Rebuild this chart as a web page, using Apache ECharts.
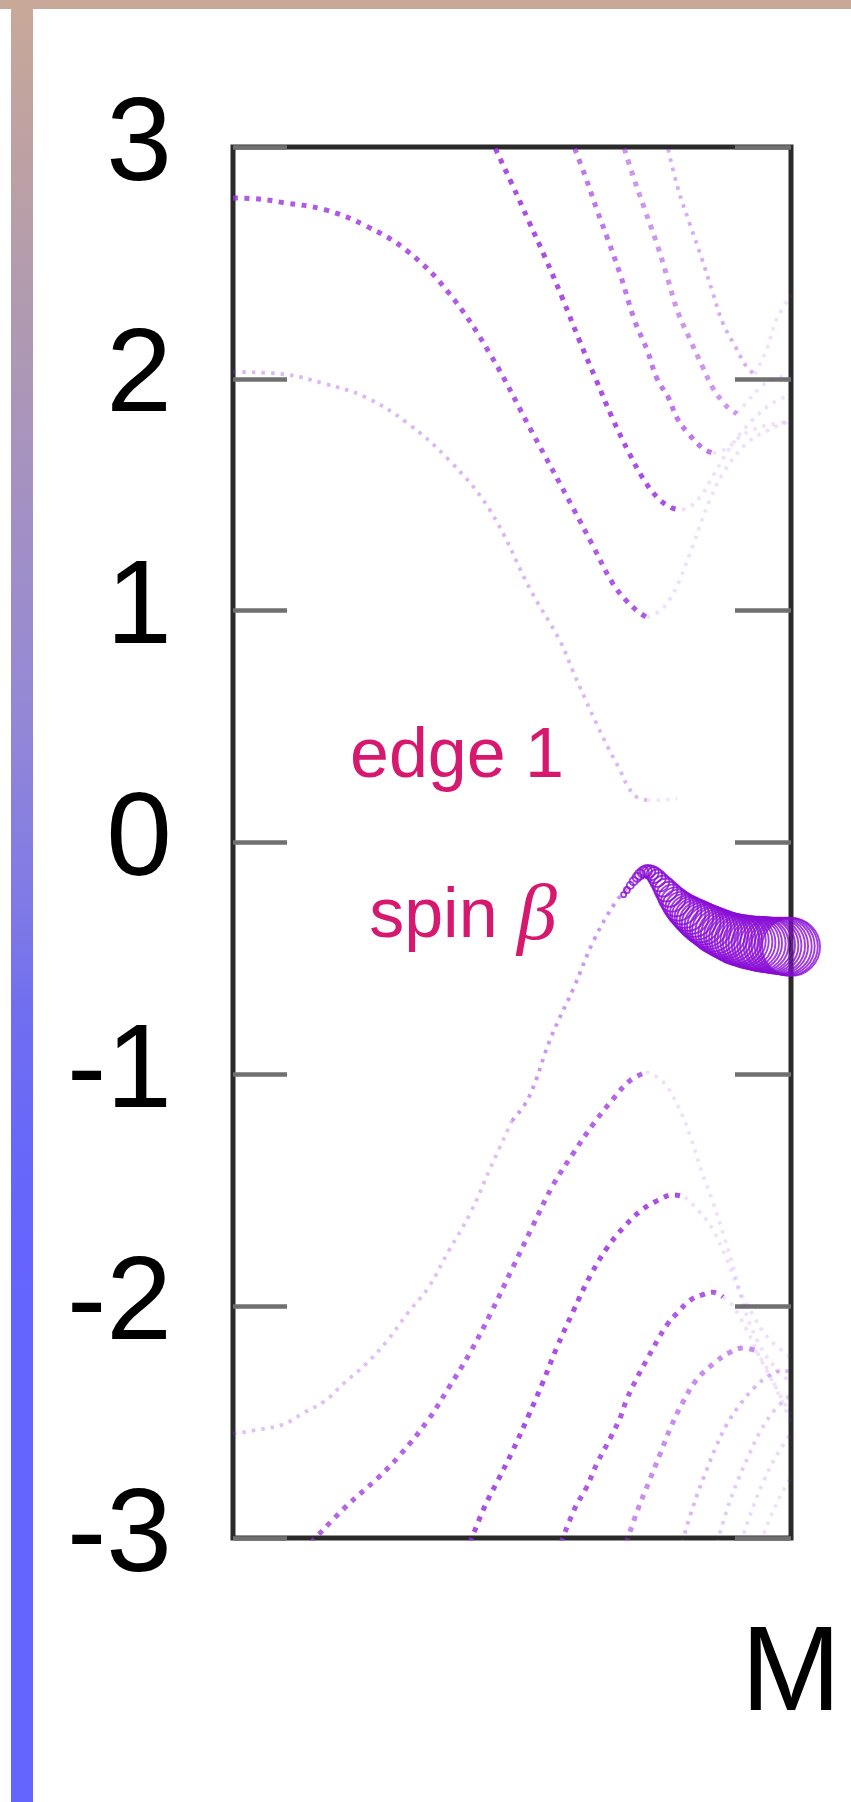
<!DOCTYPE html>
<html>
<head>
<meta charset="utf-8">
<script src="https://cdn.jsdelivr.net/npm/echarts@6/dist/echarts.min.js"></script>
<style>
html, body { margin: 0; padding: 0; background: #fff; }
#chart { width: 851px; height: 1802px; }
</style>
</head>
<body>
<div id="chart"></div>
<script>
// k runs from the left end of the path (0) to M (1); values are energies
var yTicks = [-3, -2, -1, 0, 1, 2, 3];
var kLabel = 'M';

// bands above zero: bright part, then faint part after the minimum
var u1 = [[0, 2.78], [0.05, 2.775], [0.09, 2.76], [0.164, 2.73], [0.238, 2.66], [0.313, 2.55], [0.387, 2.37], [0.46, 2.11], [0.536, 1.77], [0.61, 1.44], [0.645, 1.28], [0.68, 1.12], [0.706, 1.04], [0.724, 1.0], [0.742, 0.97]];
var u1Faint = [[0.742, 0.97], [0.765, 1.0], [0.783, 1.05], [0.80, 1.13], [0.824, 1.28], [0.855, 1.48], [0.88, 1.6], [0.92, 1.72], [0.96, 1.78], [1.0, 1.82]];
var u2 = [[0.462, 3.04], [0.469, 3.0], [0.5, 2.84], [0.53, 2.68], [0.56, 2.52], [0.59, 2.35], [0.62, 2.17], [0.65, 2.0], [0.68, 1.83], [0.71, 1.68], [0.735, 1.57], [0.76, 1.49], [0.785, 1.445], [0.805, 1.435]];
var u2Faint = [[0.805, 1.435], [0.82, 1.45], [0.84, 1.5], [0.86, 1.58], [0.89, 1.7], [0.93, 1.82], [0.97, 1.9], [1.0, 1.93]];
var u3 = [[0.605, 3.04], [0.631, 2.875], [0.652, 2.73], [0.672, 2.6], [0.694, 2.45], [0.72, 2.25], [0.742, 2.125], [0.76, 2.0], [0.78, 1.92], [0.796, 1.83], [0.814, 1.77], [0.842, 1.70], [0.86, 1.68]];
var u3Faint = [[0.86, 1.68], [0.885, 1.7], [0.908, 1.75], [0.932, 1.78], [0.957, 1.8], [1.0, 1.815]];
var u4 = [[0.695, 3.04], [0.717, 2.875], [0.738, 2.73], [0.76, 2.58], [0.778, 2.44], [0.797, 2.29], [0.819, 2.17], [0.842, 2.05], [0.86, 1.96], [0.878, 1.9], [0.89, 1.87], [0.903, 1.85]];
var u4Faint = [[0.903, 1.85], [0.921, 1.9], [0.944, 1.96], [0.968, 2.0], [1.0, 2.01]];
var u5 = [[0.776, 3.03], [0.797, 2.825], [0.819, 2.665], [0.84, 2.52], [0.86, 2.37], [0.878, 2.24], [0.9, 2.14], [0.921, 2.05], [0.935, 2.02]];
var u5Faint = [[0.935, 2.02], [0.955, 2.12], [0.975, 2.26], [1.0, 2.36]];
// edge band ending just above zero
var edgeUp = [[0, 2.03], [0.09, 2.02], [0.163, 1.98], [0.238, 1.92], [0.312, 1.81], [0.387, 1.65], [0.46, 1.435], [0.536, 1.077], [0.586, 0.87], [0.609, 0.74], [0.631, 0.62], [0.652, 0.51], [0.672, 0.41], [0.694, 0.31], [0.708, 0.24], [0.724, 0.195], [0.742, 0.183]];
var edgeUpFaint = [[0.742, 0.183], [0.765, 0.183], [0.796, 0.19]];

// bands below zero
var edgeDown = [[0, -2.55], [0.052, -2.53], [0.09, -2.51], [0.127, -2.46], [0.164, -2.41], [0.2, -2.33], [0.238, -2.25], [0.276, -2.15], [0.313, -2.03], [0.35, -1.92], [0.387, -1.76], [0.425, -1.6], [0.462, -1.4], [0.5, -1.2]];
var edgeDownUpper = [[0.5, -1.2], [0.53, -1.1], [0.57, -0.84], [0.61, -0.63], [0.647, -0.42], [0.685, -0.26], [0.712, -0.18]];
var l1 = [[0.14, -3.02], [0.2, -2.87], [0.26, -2.74], [0.3, -2.64], [0.35, -2.49], [0.387, -2.35], [0.425, -2.2], [0.462, -2.03], [0.5, -1.84], [0.536, -1.66], [0.573, -1.48], [0.61, -1.34], [0.647, -1.21], [0.68, -1.11], [0.71, -1.03], [0.74, -0.99]];
var l1Faint = [[0.74, -0.99], [0.77, -1.03], [0.8, -1.15], [0.82, -1.27], [0.84, -1.42], [0.86, -1.55], [0.88, -1.7], [0.9, -1.86], [0.915, -2.0], [0.94, -2.15], [0.97, -2.26], [1.0, -2.33]];
var l2 = [[0.425, -3.02], [0.45, -2.87], [0.475, -2.75], [0.5, -2.63], [0.53, -2.47], [0.555, -2.33], [0.58, -2.18], [0.61, -2.02], [0.64, -1.87], [0.67, -1.75], [0.70, -1.66], [0.73, -1.59], [0.76, -1.545], [0.79, -1.52], [0.81, -1.53]];
var l2Faint = [[0.81, -1.53], [0.835, -1.59], [0.86, -1.67], [0.885, -1.8], [0.905, -1.92], [0.93, -2.03], [0.96, -2.14], [1.0, -2.22]];
var l3 = [[0.588, -3.02], [0.613, -2.87], [0.634, -2.78], [0.652, -2.68], [0.676, -2.57], [0.694, -2.48], [0.706, -2.4], [0.726, -2.3], [0.744, -2.22], [0.76, -2.15], [0.778, -2.08], [0.796, -2.03], [0.819, -1.975], [0.842, -1.95], [0.86, -1.94], [0.878, -1.96]];
var l3Faint = [[0.878, -1.96], [0.896, -2.0], [0.92, -2.1], [0.944, -2.22], [0.968, -2.33], [1.0, -2.47]];
var l4 = [[0.705, -3.02], [0.725, -2.88], [0.745, -2.76], [0.765, -2.64], [0.785, -2.52], [0.805, -2.42], [0.83, -2.32], [0.86, -2.25], [0.89, -2.2], [0.915, -2.18], [0.935, -2.19]];
var l4Faint = [[0.935, -2.19], [0.955, -2.26], [0.978, -2.38], [1.0, -2.5]];
var l5 = [[0.805, -3.02], [0.825, -2.86], [0.845, -2.73], [0.865, -2.61], [0.885, -2.51], [0.91, -2.42], [0.935, -2.35], [0.96, -2.3], [0.98, -2.28], [1.0, -2.28]];
var l6 = [[0.868, -3.02], [0.885, -2.88], [0.905, -2.75], [0.925, -2.64], [0.945, -2.54], [0.97, -2.45], [1.0, -2.38]];
var l7 = [[0.91, -3.02], [0.93, -2.88], [0.95, -2.76], [0.975, -2.64], [1.0, -2.55]];
var l8 = [[0.945, -3.02], [0.965, -2.9], [0.985, -2.8], [1.0, -2.74]];

// spin beta edge state near M: k, energy, weight (drawn as circle size)
var tailK = [0.700, 0.706, 0.712, 0.718, 0.724, 0.729, 0.735, 0.740, 0.745, 0.750, 0.755, 0.760, 0.765, 0.771, 0.776, 0.782, 0.787, 0.793, 0.798, 0.804, 0.809, 0.815, 0.820, 0.826, 0.831, 0.837, 0.842, 0.848, 0.853, 0.859, 0.864, 0.870, 0.876, 0.881, 0.887, 0.892, 0.898, 0.903, 0.909, 0.914, 0.920, 0.925, 0.931, 0.936, 0.942, 0.947, 0.953, 0.958, 0.964, 0.969, 0.975, 0.980, 0.986, 0.991, 0.996, 1.000];
var tailE = [-0.225, -0.205, -0.185, -0.167, -0.15, -0.138, -0.128, -0.124, -0.125, -0.131, -0.14, -0.154, -0.17, -0.188, -0.205, -0.223, -0.24, -0.256, -0.27, -0.283, -0.295, -0.305, -0.315, -0.324, -0.333, -0.342, -0.35, -0.358, -0.365, -0.373, -0.38, -0.387, -0.393, -0.399, -0.405, -0.41, -0.415, -0.419, -0.422, -0.425, -0.428, -0.431, -0.433, -0.435, -0.437, -0.439, -0.44, -0.442, -0.443, -0.444, -0.445, -0.446, -0.447, -0.448, -0.449, -0.45];
var tailW = [5, 6, 7, 8, 9, 10, 11, 12, 13, 14.5, 16, 17.5, 19, 21, 23, 25, 27, 29, 31, 32.5, 34, 35.5, 37, 38.5, 40, 41, 42, 43, 44, 45, 46, 46.5, 47, 47.5, 48, 49, 50, 50.5, 51, 51.5, 52, 52.5, 53, 53.5, 54, 54.5, 55, 55, 55, 55.5, 56, 56.5, 57, 57.5, 58, 58];

var PURPLE = '#9b30e0';
var PINK = '#d6186e';

var bandList = [
    [u1, 0.8, 1], [u1Faint, 0.15, 0],
    [u2, 0.85, 1], [u2Faint, 0.15, 0],
    [u3, 0.65, 1], [u3Faint, 0.15, 0],
    [u4, 0.5, 1], [u4Faint, 0.14, 0],
    [u5, 0.4, 0], [u5Faint, 0.14, 0],
    [edgeUp, 0.35, 0], [edgeUpFaint, 0.12, 0],
    [edgeDown, 0.3, 0], [edgeDownUpper, 0.5, 0],
    [l1, 0.75, 1], [l1Faint, 0.15, 0],
    [l2, 0.85, 1], [l2Faint, 0.15, 0],
    [l3, 0.8, 1], [l3Faint, 0.15, 0],
    [l4, 0.55, 1], [l4Faint, 0.14, 0],
    [l5, 0.35, 0], [l6, 0.25, 0], [l7, 0.18, 0], [l8, 0.14, 0]
];

var series = bandList.map(function (b) {
    return {
        type: 'line',
        data: b[0],
        smooth: 0.4,
        showSymbol: false,
        silent: true,
        lineStyle: {
            color: PURPLE,
            opacity: b[1],
            width: b[2] ? 5 : 3.8,
            type: b[2] ? [5, 6.5] : [3.5, 6],
            cap: 'butt'
        },
        z: 2
    };
});

var tailData = tailK.map(function (k, i) {
    return [k, tailE[i], tailW[i]];
});
series.push({
    type: 'scatter',
    data: tailData,
    symbol: 'circle',
    symbolSize: function (val) { return val[2]; },
    clip: false,
    silent: true,
    itemStyle: {
        color: 'rgba(0,0,0,0)',
        borderColor: '#8a0cd6',
        borderWidth: 1.9
    },
    z: 3
});

var myChart = echarts.init(document.getElementById('chart'));
var option = {
    backgroundColor: '#fff',
    animation: false,
    grid: {
        left: 233, top: 147, width: 558, height: 1391,
        show: true, borderColor: '#2a2a2a', borderWidth: 5
    },
    xAxis: {
        type: 'value', min: 0, max: 1, interval: 1,
        axisLine: { show: false },
        axisTick: { show: false },
        splitLine: { show: false },
        axisLabel: {
            formatter: function (v) { return v === 1 ? kLabel : ''; },
            fontSize: 120, fontFamily: 'Liberation Sans', color: '#000', margin: 79,
            showMaxLabel: true
        }
    },
    yAxis: [{
        type: 'value', min: yTicks[0], max: yTicks[yTicks.length - 1], interval: 1,
        axisLine: { show: false },
        splitLine: { show: false },
        axisTick: { show: true, inside: true, length: 54, lineStyle: { color: '#707070', width: 4.5 } },
        axisLabel: { fontSize: 118, fontFamily: 'Liberation Sans', color: '#000', margin: 61 }
    }, {
        type: 'value', position: 'right', min: yTicks[0], max: yTicks[yTicks.length - 1], interval: 1,
        axisLine: { show: false },
        splitLine: { show: false },
        axisTick: { show: true, inside: true, length: 56, lineStyle: { color: '#707070', width: 4.5 } },
        axisLabel: { show: false }
    }],
    graphic: [
        { type: 'rect', left: 0, top: 0, shape: { width: 851, height: 9 }, style: { fill: '#c8a898' }, silent: true },
        {
            type: 'rect', left: 11, top: 9, shape: { width: 22, height: 1793 }, silent: true,
            style: {
                fill: new echarts.graphic.LinearGradient(0, 0, 0, 1, [
                    { offset: 0, color: '#c8a898' },
                    { offset: 0.17, color: '#b09ab0' },
                    { offset: 0.26, color: '#a592c0' },
                    { offset: 0.38, color: '#9689d4' },
                    { offset: 0.5, color: '#7f7ae6' },
                    { offset: 0.56, color: '#706ef0' },
                    { offset: 0.64, color: '#6767fa' },
                    { offset: 0.72, color: '#6464ff' },
                    { offset: 1, color: '#6464ff' }
                ])
            }
        },
        {
            type: 'text', x: 457, y: 758, silent: true,
            style: { text: 'edge 1', fill: PINK, fontSize: 70, fontFamily: 'Liberation Sans', align: 'center', verticalAlign: 'middle' }
        },
        {
            type: 'text', x: 463, y: 918, silent: true,
            style: {
                text: '{a|spin }{b|β}', align: 'center', verticalAlign: 'middle',
                rich: {
                    a: { fill: PINK, fontSize: 70, fontFamily: 'Liberation Sans' },
                    b: { fill: PINK, fontSize: 80, fontFamily: 'Liberation Serif', fontStyle: 'italic' }
                }
            }
        }
    ],
    series: series
};
myChart.setOption(option);
window.addEventListener('resize', function () {
    myChart.resize();
});
</script>
</body>
</html>
